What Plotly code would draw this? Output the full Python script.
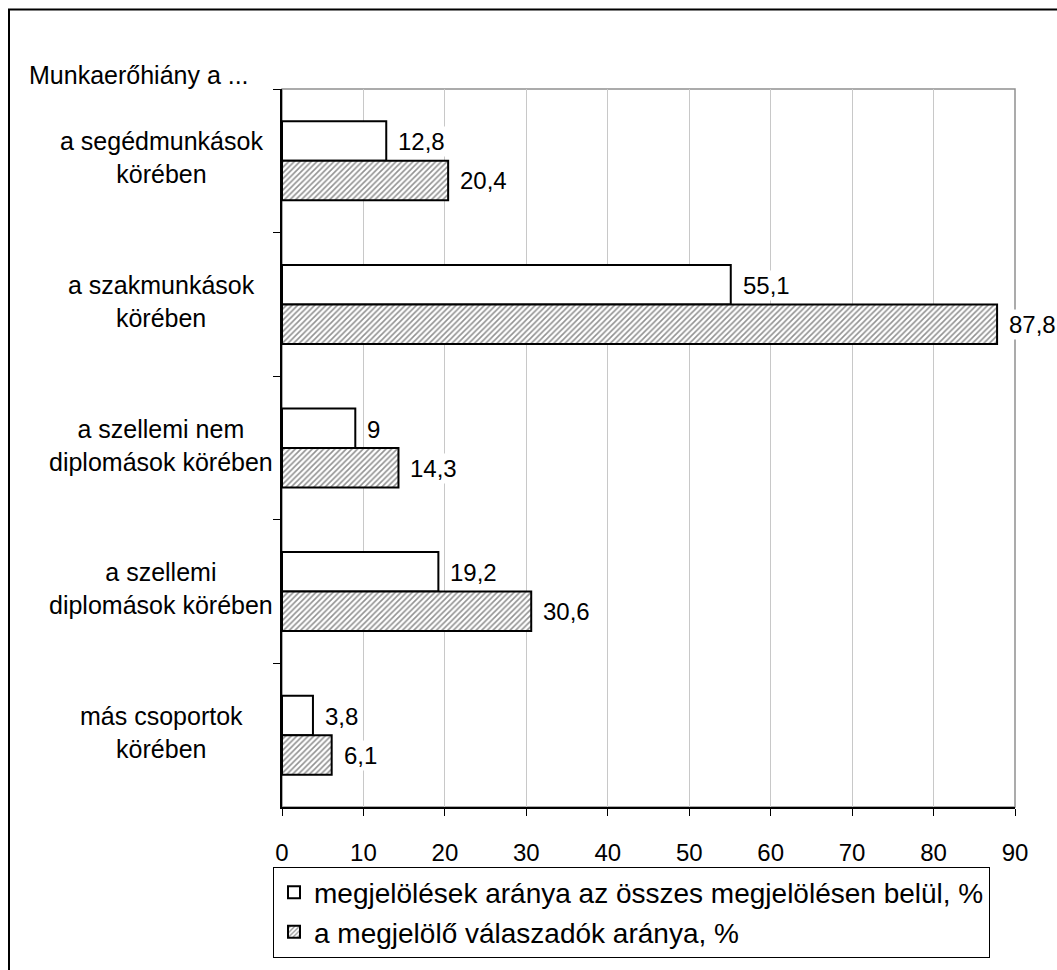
import plotly.graph_objects as go

# adatok
categories = [
    "a segédmunkások<br>körében",
    "a szakmunkások<br>körében",
    "a szellemi nem<br>diplomások körében",
    "a szellemi<br>diplomások körében",
    "más csoportok<br>körében",
]
share_of_marks = [12.8, 55.1, 9, 19.2, 3.8]
share_of_respondents = [20.4, 87.8, 14.3, 30.6, 6.1]
series_names = [
    "megjelölések aránya az összes megjelölésen belül, %",
    "a megjelölő válaszadók aránya, %",
]
x_ticks = [0, 10, 20, 30, 40, 50, 60, 70, 80, 90]

FONT = "Liberation Sans, Arial, sans-serif"
W, H = 1057, 970
L, R, T, B = 282, 42, 89, 158
PW, PH = W - L - R, H - T - B


def px_x(p):
    return (p - L) / PW


def px_y(p):
    return 1 - (p - T) / PH


def fmt(v):
    return ("%g" % v).replace(".", ",")


fig = go.Figure()
fig.add_trace(go.Bar(
    y=categories, x=share_of_marks, name=series_names[0], orientation="h",
    marker=dict(color="white", line=dict(color="black", width=2)),
))
fig.add_trace(go.Bar(
    y=categories, x=share_of_respondents, name=series_names[1], orientation="h",
    marker=dict(color="white", line=dict(color="black", width=2),
                pattern=dict(shape="/", fgcolor="#262626", bgcolor="white", size=4, solidity=0.4)),
))

annotations = []
for cat, a, b in zip(categories, share_of_marks, share_of_respondents):
    for v, shift in ((a, 19), (b, -20)):
        annotations.append(dict(
            x=v, y=cat, xref="x", yref="y", text=fmt(v), showarrow=False,
            xanchor="left", yshift=shift, xshift=10, bgcolor="white",
            font=dict(family=FONT, size=24, color="black"),
        ))
    annotations.append(dict(
        x=px_x(161), y=cat, xref="paper", yref="y", text=cat, showarrow=False,
        xanchor="center", align="center", yshift=3,
        font=dict(family=FONT, size=25, color="black"),
    ))
annotations.append(dict(
    x=px_x(27), y=px_y(75), xref="paper", yref="paper", text="Munkaerőhiány a ...",
    showarrow=False, xanchor="left", yanchor="middle",
    font=dict(family=FONT, size=25, color="black"),
))

shapes = [
    # plot area frame
    dict(type="rect", xref="paper", yref="paper", x0=0, x1=1, y0=0, y1=1,
         line=dict(color="#909090", width=1.5), layer="below"),
    # outer chart frame
    dict(type="rect", xref="paper", yref="paper",
         x0=px_x(9), x1=px_x(1075), y0=px_y(990), y1=px_y(9),
         line=dict(color="black", width=2)),
]

fig.update_layout(
    width=W, height=H,
    margin=dict(l=L, r=R, t=T, b=B),
    paper_bgcolor="white", plot_bgcolor="white",
    barmode="group", bargap=0.45, bargroupgap=0,
    font=dict(family=FONT, size=24, color="black"),
    annotations=annotations, shapes=shapes,
    showlegend=True,
    legend=dict(
        x=px_x(273), y=px_y(872), xanchor="left", yanchor="top",
        bordercolor="black", borderwidth=1, bgcolor="white",
        font=dict(family=FONT, size=28, color="black"),
        traceorder="normal", tracegroupgap=0,
    ),
)
fig.update_xaxes(
    range=[0, 90], tickvals=x_ticks, ticktext=[str(t) for t in x_ticks],
    showgrid=True, gridcolor="#c8c8c8", gridwidth=1,
    showline=True, linecolor="black", linewidth=1.5,
    ticks="outside", ticklen=7, tickcolor="black",
    tickfont=dict(family=FONT, size=24, color="black"),
    ticklabelstandoff=16,
    zeroline=False, fixedrange=True,
)
fig.update_yaxes(
    type="category", autorange="reversed", tickson="boundaries",
    showticklabels=False, showgrid=False,
    showline=True, linecolor="black", linewidth=1.5,
    ticks="outside", ticklen=7, tickcolor="black",
    zeroline=False, fixedrange=True,
)

fig.write_html("out.html", config={"displayModeBar": False},
               post_script="document.body.style.margin='0';")
